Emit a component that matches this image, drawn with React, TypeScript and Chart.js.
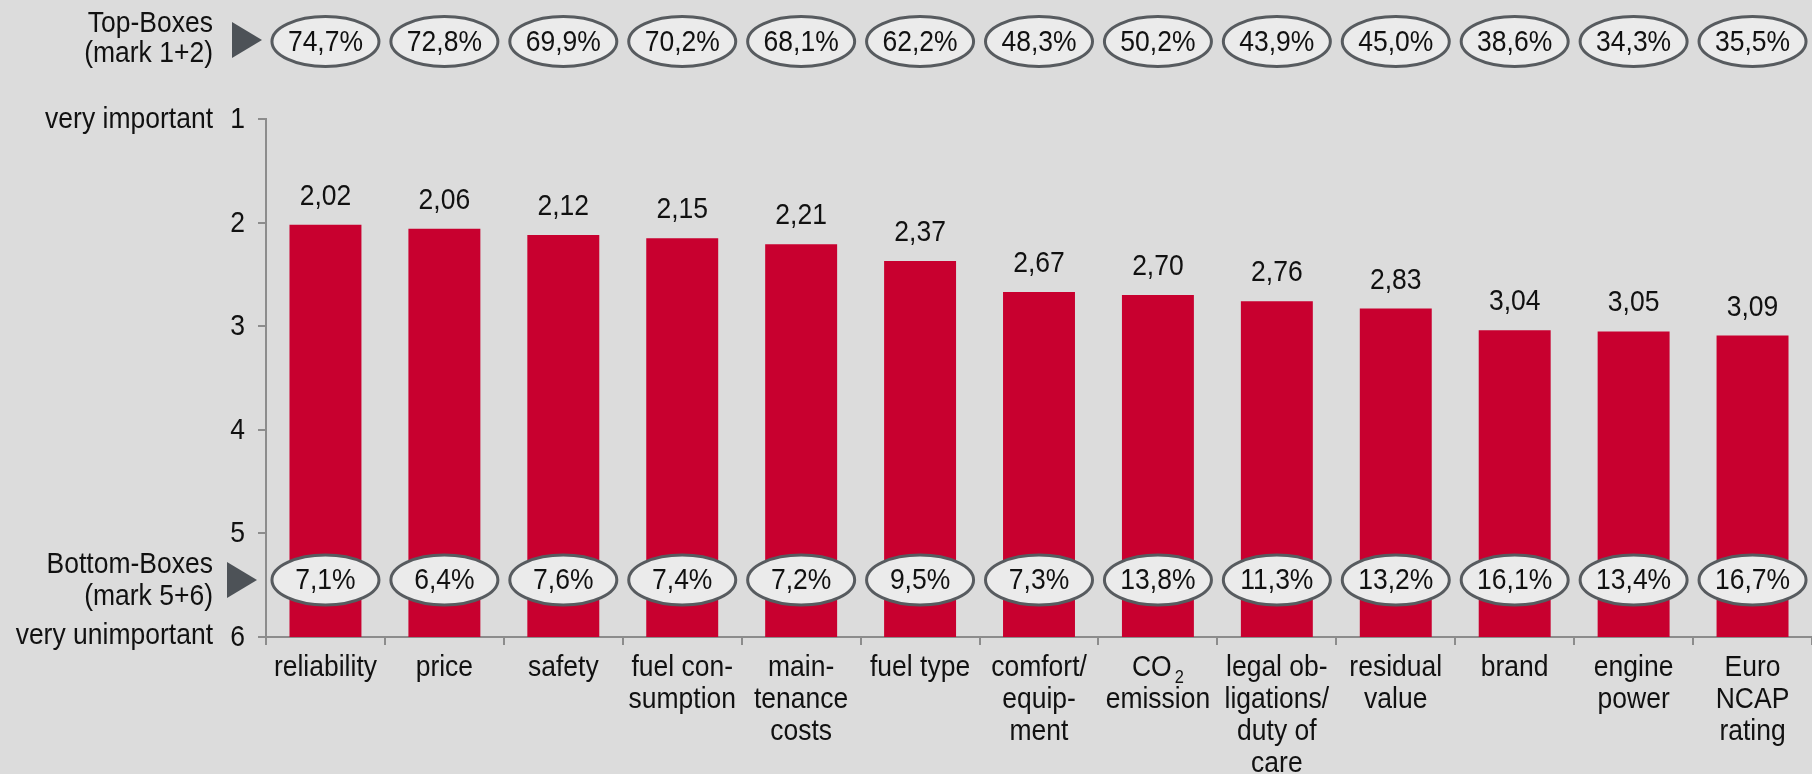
import React, { useEffect, useRef } from "react";
import { Chart, registerables } from "chart.js";

Chart.register(...registerables);

// ---- data ----
const categories: string[][] = [
  ["reliability"],
  ["price"],
  ["safety"],
  ["fuel con-", "sumption"],
  ["main-", "tenance", "costs"],
  ["fuel type"],
  ["comfort/", "equip-", "ment"],
  ["CO_2", "emission"],
  ["legal ob-", "ligations/", "duty of", "care"],
  ["residual", "value"],
  ["brand"],
  ["engine", "power"],
  ["Euro", "NCAP", "rating"],
];
const meanValues = [2.02, 2.06, 2.12, 2.15, 2.21, 2.37, 2.67, 2.7, 2.76, 2.83, 3.04, 3.05, 3.09];
const topBoxes = [74.7, 72.8, 69.9, 70.2, 68.1, 62.2, 48.3, 50.2, 43.9, 45.0, 38.6, 34.3, 35.5];
const bottomBoxes = [7.1, 6.4, 7.6, 7.4, 7.2, 9.5, 7.3, 13.8, 11.3, 13.2, 16.1, 13.4, 16.7];
const yTickValues = [1, 2, 3, 4, 5, 6];
const scaleMin = 1;
const scaleMax = 6;
const topBoxLabel = ["Top-Boxes", "(mark 1+2)"];
const bottomBoxLabel = ["Bottom-Boxes", "(mark 5+6)"];
const scaleEndLabels = ["very important", "very unimportant"];

const FONT = "'Liberation Sans', Arial, sans-serif";
const FS = 26.5;
const VSTRETCH = 1.1;
const BG = "#dcdcdc";
const BAR = "#c8002f";
const AXIS = "#8c8c8c";
const TEXT = "#111111";

const fmt = (v: number, d: number) => v.toFixed(d).replace(".", ",");

function drawText(ctx: CanvasRenderingContext2D, txt: string, x: number, y: number, align: CanvasTextAlign, size = FS) {
  ctx.save();
  ctx.translate(x, y);
  ctx.scale(1, VSTRETCH);
  ctx.font = `${size}px ${FONT}`;
  ctx.textAlign = align;
  ctx.textBaseline = "alphabetic";
  ctx.fillStyle = TEXT;
  ctx.fillText(txt, 0, 0);
  ctx.restore();
}

function drawLabelLine(ctx: CanvasRenderingContext2D, line: string, cx: number, y: number) {
  const idx = line.indexOf("_");
  if (idx < 0) {
    drawText(ctx, line, cx, y, "center");
    return;
  }
  const main = line.slice(0, idx);
  const sub = line.slice(idx + 1);
  ctx.save();
  ctx.font = `${FS}px ${FONT}`;
  const wMain = ctx.measureText(main).width;
  ctx.font = `${FS * 0.62}px ${FONT}`;
  const wSub = ctx.measureText(sub).width;
  ctx.restore();
  const gap = 3;
  const x0 = cx - (wMain + gap + wSub) / 2;
  drawText(ctx, main, x0, y, "left");
  drawText(ctx, sub, x0 + wMain + gap, y + 7, "left", FS * 0.62);
}

const decorPlugin = {
  id: "decor",
  beforeDraw(chart: any) {
    const { ctx, width, height } = chart;
    ctx.save();
    ctx.fillStyle = BG;
    ctx.fillRect(0, 0, width, height);
    ctx.restore();
  },
  afterDraw(chart: any) {
    const { ctx, chartArea } = chart;
    const xs = chart.scales.x;
    const ys = chart.scales.y;

    // value labels
    meanValues.forEach((v, i) => {
      drawText(ctx, fmt(v, 2), xs.getPixelForValue(i), ys.getPixelForValue(v) - 20, "center");
    });

    // y tick labels
    yTickValues.forEach((t) => {
      drawText(ctx, String(t), chartArea.left - 21, ys.getPixelForValue(t) + 9, "right");
    });

    // x category labels
    categories.forEach((lines, i) => {
      const cx = xs.getPixelForValue(i);
      lines.forEach((ln, k) => drawLabelLine(ctx, ln, cx, chartArea.bottom + 39 + k * 32));
    });

    const drawEllipse = (cx: number, cy: number, txt: string) => {
      ctx.save();
      ctx.beginPath();
      ctx.ellipse(cx, cy, 53.5, 25, 0, 0, Math.PI * 2);
      ctx.fillStyle = "#ebebeb";
      ctx.fill();
      ctx.lineWidth = 3;
      ctx.strokeStyle = "#575b5f";
      ctx.stroke();
      ctx.restore();
      drawText(ctx, txt, cx, cy + 9, "center");
    };
    const topY = chartArea.top - 77.5;
    const botY = ys.getPixelForValue(5.45);
    topBoxes.forEach((v, i) => drawEllipse(xs.getPixelForValue(i), topY, fmt(v, 1) + "%"));
    bottomBoxes.forEach((v, i) => drawEllipse(xs.getPixelForValue(i), botY, fmt(v, 1) + "%"));

    // left labels
    const rightX = chartArea.left - 53;
    drawText(ctx, topBoxLabel[0], rightX, topY - 9.5, "right");
    drawText(ctx, topBoxLabel[1], rightX, topY + 20.5, "right");
    drawText(ctx, bottomBoxLabel[0], rightX, botY - 7, "right");
    drawText(ctx, bottomBoxLabel[1], rightX, botY + 25, "right");
    drawText(ctx, scaleEndLabels[0], rightX, ys.getPixelForValue(scaleMin) + 9, "right");
    drawText(ctx, scaleEndLabels[1], rightX, ys.getPixelForValue(scaleMax) + 7, "right");

    // triangles
    const tri = (x0: number, cy: number) => {
      ctx.save();
      ctx.beginPath();
      ctx.moveTo(x0, cy - 18);
      ctx.lineTo(x0, cy + 18);
      ctx.lineTo(x0 + 30, cy);
      ctx.closePath();
      ctx.fillStyle = "#4d5257";
      ctx.fill();
      ctx.restore();
    };
    tri(chartArea.left - 34, topY - 1.5);
    tri(chartArea.left - 39, botY);
  },
};

export default function App() {
  const ref = useRef<HTMLCanvasElement | null>(null);
  useEffect(() => {
    document.body.style.margin = "0";
    document.body.style.background = BG;
    const canvas = ref.current!;
    const chart = new Chart(canvas, {
      type: "bar",
      data: {
        labels: categories.map((c) => c.join(" ").replace("_", "")),
        datasets: [
          {
            data: meanValues.map((v) => [scaleMax, v]) as any,
            backgroundColor: BAR,
            borderWidth: 0,
            categoryPercentage: 1,
            barPercentage: 0.605,
          },
        ],
      },
      options: {
        animation: false,
        responsive: false,
        devicePixelRatio: 1,
        layout: { padding: { top: 119, right: 0, bottom: 0, left: 0 } },
        plugins: { legend: { display: false }, tooltip: { enabled: false }, title: { display: false } },
        scales: {
          x: {
            type: "category",
            grid: { offset: true, drawOnChartArea: false, tickLength: 8, color: AXIS, lineWidth: 2 },
            border: { color: AXIS, width: 2 },
            ticks: { display: false },
            afterFit: (s: any) => {
              s.height = 137;
            },
          },
          y: {
            type: "linear",
            min: scaleMin,
            max: scaleMax,
            reverse: true,
            grid: { drawOnChartArea: false, tickLength: 8, color: AXIS, lineWidth: 2 },
            border: { color: AXIS, width: 2 },
            ticks: { stepSize: 1, display: false },
            afterFit: (s: any) => {
              s.width = 266;
            },
          },
        },
      },
      plugins: [decorPlugin],
    });
    return () => chart.destroy();
  }, []);
  return (
    <div style={{ width: 1812, height: 774, background: BG }}>
      <canvas ref={ref} width={1812} height={774} style={{ display: "block" }} />
    </div>
  );
}
